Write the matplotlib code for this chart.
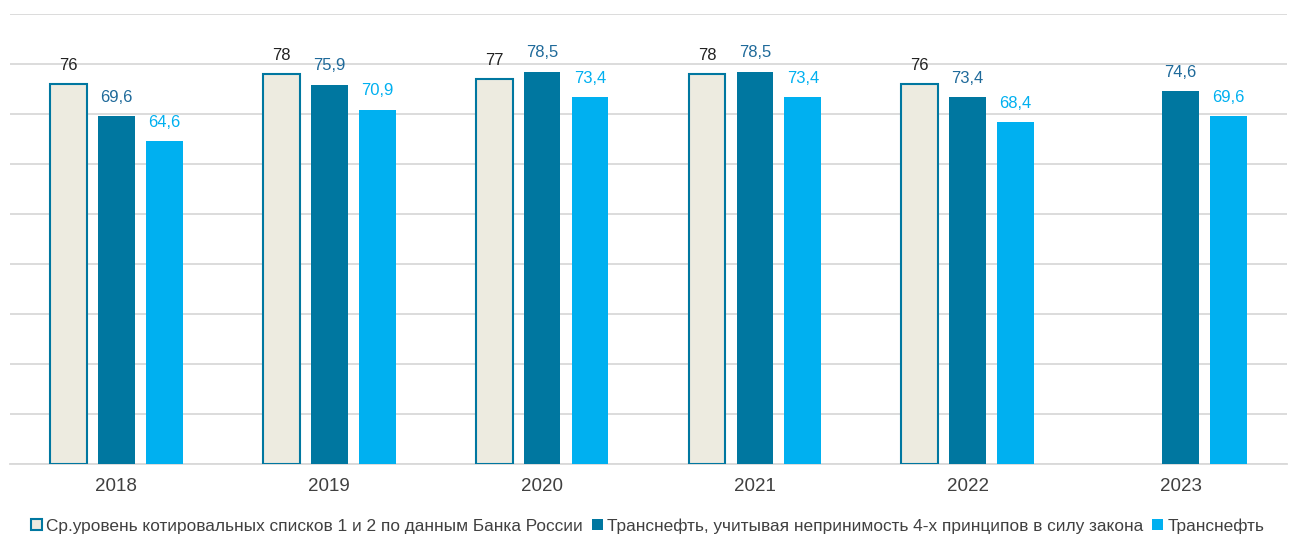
import matplotlib
matplotlib.use("Agg")
import matplotlib.pyplot as plt
import numpy as np
from matplotlib.patches import Patch

years = ["2018", "2019", "2020", "2021", "2022", "2023"]
avg_level = [76, 78, 77, 78, 76, None]
transneft_law = [69.6, 75.9, 78.5, 78.5, 73.4, 74.6]
transneft = [64.6, 70.9, 73.4, 73.4, 68.4, 69.6]
series_names = ["Ср.уровень котировальных списков 1 и 2 по данным Банка России",
                "Транснефть, учитывая непринимость 4-х принципов в силу закона",
                "Транснефть"]

plt.rcParams['font.family'] = ['Liberation Sans', 'DejaVu Sans']

fig = plt.figure(figsize=(12.95, 5.36), dpi=100)
ax = fig.add_axes([10/1295, (536-464)/536, (1287-10)/1295, 450/536])

x = np.arange(len(years))
w = 0.173
pitch = 0.225

c_beige = "#EDEBE0"
c_dark = "#0077A0"
c_light = "#00B0F0"

def fmt(v):
    s = f"{v:g}"
    return s.replace(".", ",")

for i, v in enumerate(avg_level):
    if v is None:
        continue
    ax.bar(x[i] - pitch, v, w, color=c_beige, edgecolor=c_dark, linewidth=1.5, zorder=3)
    ax.annotate(fmt(v), (x[i] - pitch, v), xytext=(0, 8), textcoords="offset points",
                ha="center", va="bottom", fontsize=12, color="#222222")
for i, v in enumerate(transneft_law):
    ax.bar(x[i], v, w, color=c_dark, zorder=3)
    ax.annotate(fmt(v), (x[i], v), xytext=(0, 8), textcoords="offset points",
                ha="center", va="bottom", fontsize=12, color="#1F6A9A")
for i, v in enumerate(transneft):
    ax.bar(x[i] + pitch, v, w, color=c_light, zorder=3)
    ax.annotate(fmt(v), (x[i] + pitch, v), xytext=(0, 8), textcoords="offset points",
                ha="center", va="bottom", fontsize=12, color=c_light)

ax.set_xlim(-0.5, len(years) - 0.5)
ax.set_ylim(0, 90)
ax.set_yticks(np.arange(0, 91, 10))
ax.yaxis.grid(True, color="#D9D9D9", linewidth=1.3, zorder=0)
ax.set_axisbelow(True)
ax.tick_params(axis="y", left=False, labelleft=False)
ax.tick_params(axis="x", length=0, labelsize=13.5, labelcolor="#404040", pad=10)
ax.set_xticks(x)
ax.set_xticklabels(years)
for s in ["top", "right", "left"]:
    ax.spines[s].set_visible(False)
ax.spines["bottom"].set_color("#D9D9D9")
ax.spines["bottom"].set_linewidth(1.3)

handles = [Patch(facecolor=c_beige, edgecolor=c_dark, linewidth=1.5),
           Patch(facecolor=c_dark), Patch(facecolor=c_light)]
fig.legend(handles, series_names, loc="center", bbox_to_anchor=(0.5, (536-526)/536),
           ncol=3, frameon=False, fontsize=12.4, handlelength=0.65, handleheight=0.65,
           handletextpad=0.25, columnspacing=0.5, labelcolor="#404040")

fig.savefig("out.png", dpi=100)
